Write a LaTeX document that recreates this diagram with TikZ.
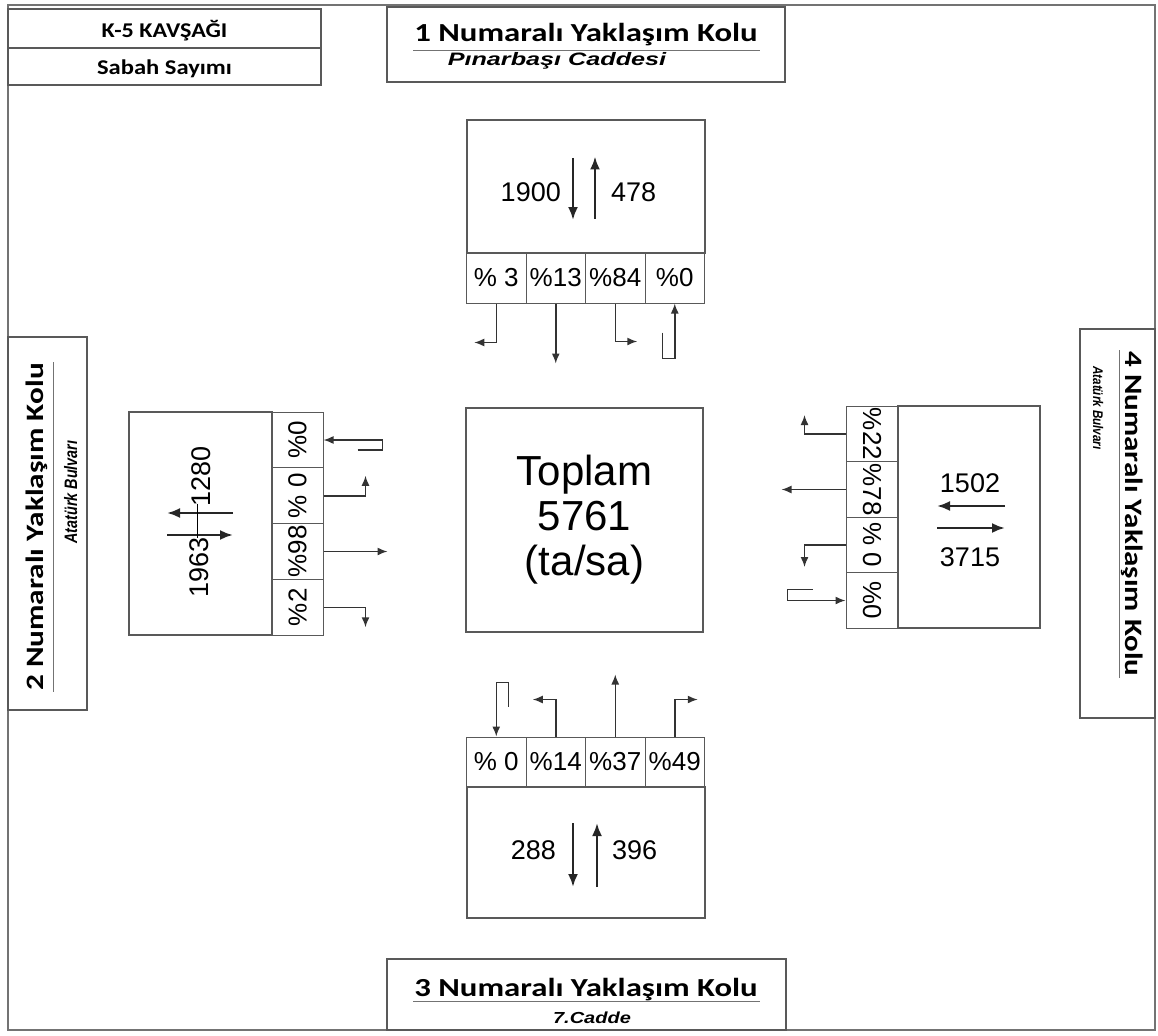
\documentclass[tikz,border=0pt]{standalone}
\usepackage{fontspec}
\setmainfont{Liberation Sans}
\newfontfamily\headfont{Carlito}
\usetikzlibrary{positioning,arrows.meta}
\newcommand{\stretchtext}[2]{\scalebox{#1}[1]{#2}}

\begin{document}
\begin{tikzpicture}[x=1pt, y=-1pt, on grid,
box/.style={rectangle, draw=black!65, line width=1.3pt, inner sep=0pt},
cell/.style={box, line width=1pt, minimum width=59.5pt, minimum height=50pt,
  font=\fontsize{26}{26}\selectfont},
vcell/.style={box, line width=1pt, minimum width=51pt, minimum height=55.75pt,
  font=\fontsize{26}{26}\selectfont},
count/.style={inner sep=0pt, font=\fontsize{27}{27}\selectfont},
head/.style={inner sep=0pt, font=\headfont\bfseries\fontsize{#1}{#1}\selectfont},
street/.style={inner sep=0pt, font=\bfseries\itshape\fontsize{#1}{#1}\selectfont},
flow/.style={-{Latex[length=10pt, width=8pt]}, line width=1.5pt, draw=black!80},
bigflow/.style={-{Latex[length=13pt, width=10pt]}, line width=2.4pt, draw=black!85},
rule/.style={line width=1pt, draw=black!55}
]
\useasboundingbox (0,0) rectangle (1158,1035);
\draw[line width=1.5pt, black!55] (8,5) rectangle (1155,1030);

% intersection name and period
\node[box, minimum width=313pt, minimum height=39pt] (kbox) at (164.5,28.5) {};
\node[box, minimum width=313pt, minimum height=37pt, below=38pt of kbox] (tbox) {};
\node[head=21, anchor=base] (kname) at (164.5,37.5) {\stretchtext{1.15}{K-5 KAVŞAĞI}};
\node[head=21, anchor=base] (ktime) at (164.5,75) {\stretchtext{1.17}{Sabah Sayımı}};

% approach titles
\node[box, minimum width=398pt, minimum height=75pt] (arm1) at (586,44.5) {};
\node[head=26, anchor=base] (arm1name) at (586,42) {\stretchtext{1.26}{1 Numaralı Yaklaşım Kolu}};
\draw[rule] (413,51) -- (760,51);
\node[street=18, anchor=base] (arm1road) at (557,66) {\stretchtext{1.4}{Pınarbaşı Caddesi}};

\node[box, minimum width=399pt, minimum height=71pt] (arm3) at (586.5,994.5) {};
\node[head=26, anchor=base] (arm3name) at (586,996) {\stretchtext{1.26}{3 Numaralı Yaklaşım Kolu}};
\draw[rule] (413,1001) -- (760,1001);
\node[street=16, anchor=base] (arm3road) at (592,1023) {\stretchtext{1.25}{7.Cadde}};

\node[box, minimum width=79pt, minimum height=373pt] (arm2) at (47.5,523.5) {};
\node[head=25, anchor=base, rotate=90] (arm2name) at (43,527) {\stretchtext{1.25}{2 Numaralı Yaklaşım Kolu}};
\draw[rule] (53,362) -- (53,692);
\node[street=18, anchor=base, rotate=90] (arm2road) at (77,492) {\stretchtext{0.8}{Atatürk Bulvarı}};

\node[box, minimum width=75pt, minimum height=389pt] (arm4) at (1117.5,523.5) {};
\node[head=25, anchor=base, rotate=-90] (arm4name) at (1125,514) {\stretchtext{1.24}{4 Numaralı Yaklaşım Kolu}};
\draw[rule] (1119,350) -- (1119,678);
\node[street=14, anchor=base, rotate=-90] (arm4road) at (1093,408) {\stretchtext{0.83}{Atatürk Bulvarı}};

% total
\node[box, minimum width=237pt, minimum height=224pt, align=center,
  font=\fontsize{42}{45}\selectfont] (total) at (584.5,520) {Toplam\\5761\\(ta/sa)};

% north approach
\node[box, minimum width=238pt, minimum height=133pt] (north) at (586,186.5) {};
\node[cell] (n1) at (496.25,278) {\% 3};
\node[cell, right=59.5pt of n1] (n2) {\%13};
\node[cell, right=59.5pt of n2] (n3) {\%84};
\node[cell, right=59.5pt of n3] (n4) {\%0};
\node[count, anchor=east] (nin) at (561,192) {1900};
\node[count, anchor=west] (nout) at (611,192) {478};
\draw[bigflow] (north.center) ++(-13,-28.5) -- ++(0,62);
\draw[bigflow] (north.center) ++(9,32) -- ++(0,-62);
\draw[flow] (n1.south) |- ++(-22,39);
\draw[flow] (n2.south) -- ++(0,60);
\draw[flow] (n3.south) |- ++(22,38);
\draw[flow] (n4.south) ++(-12.5,29) |- ++(12.5,26) -- (n4.south);

% west approach
\node[box, minimum width=143pt, minimum height=223pt] (west) at (200.5,523.5) {};
\node[vcell] (w1) at (297.5,440) {\rotatebox{90}{\%0}};
\node[vcell, below=55.75pt of w1] (w2) {\rotatebox{90}{\% 0}};
\node[vcell, below=55.75pt of w2] (w3) {\rotatebox{90}{\%98}};
\node[vcell, below=55.75pt of w3] (w4) {\rotatebox{90}{\%2}};
\node[count, rotate=90] (win) at (199,567) {1963};
\node[count, rotate=90] (wout) at (201,476) {1280};
\draw[bigflow] (west.center) ++(32.5,-10.5) -- ++(-66,0);
\draw[bigflow] (west.center) ++(-33.5,11.5) -- ++(66,0);
\draw[line width=0.8pt] (west.center) ++(-3,-20) -- ++(0,34);
\draw[flow] (w1.east) ++(34,10) -| ++(25,-10) -- (w1.east);
\draw[flow] (w2.east) -| ++(42,-20);
\draw[flow] (w3.east) -- ++(64,0);
\draw[flow] (w4.east) -| ++(42,20);

% east approach
\node[box, minimum width=142pt, minimum height=222pt] (east) at (969,517) {};
\node[vcell, minimum width=52pt, minimum height=55.5pt] (e1) at (872,434) {\rotatebox{-90}{\%22}};
\node[vcell, minimum width=52pt, minimum height=55.5pt, below=55.5pt of e1] (e2) {\rotatebox{-90}{\%78}};
\node[vcell, minimum width=52pt, minimum height=55.5pt, below=55.5pt of e2] (e3) {\rotatebox{-90}{\% 0}};
\node[vcell, minimum width=52pt, minimum height=55.5pt, below=55.5pt of e3] (e4) {\rotatebox{-90}{\%0}};
\node[count] (eout) at (970,483) {1502};
\node[count] (ein) at (970,557) {3715};
\draw[bigflow] (east.center) ++(36,-11) -- ++(-68,0);
\draw[bigflow] (east.center) ++(-32,11) -- ++(68,0);
\draw[flow] (e1.west) -| ++(-41,-19);
\draw[flow] (e2.west) -- ++(-64,0);
\draw[flow] (e3.west) -| ++(-41,22);
\draw[flow] (e4.west) ++(-33,-11) -| ++(-25,11) -- (e4.west);

% south approach
\node[box, minimum width=238pt, minimum height=131pt] (south) at (586,852.5) {};
\node[cell] (s1) at (496.25,762) {\% 0};
\node[cell, right=59.5pt of s1] (s2) {\%14};
\node[cell, right=59.5pt of s2] (s3) {\%37};
\node[cell, right=59.5pt of s3] (s4) {\%49};
\node[count, anchor=east] (sin) at (556,850) {288};
\node[count, anchor=west] (sout) at (612,850) {396};
\draw[bigflow] (south.center) ++(-13,-29.5) -- ++(0,64);
\draw[bigflow] (south.center) ++(11,34.5) -- ++(0,-64);
\draw[flow] (s1.north) ++(12,-30) |- ++(-12,-24) -- (s1.north);
\draw[flow] (s2.north) |- ++(-23,-37);
\draw[flow] (s3.north) -- ++(0,-62);
\draw[flow] (s4.north) |- ++(23,-37);
\end{tikzpicture}
\end{document}
